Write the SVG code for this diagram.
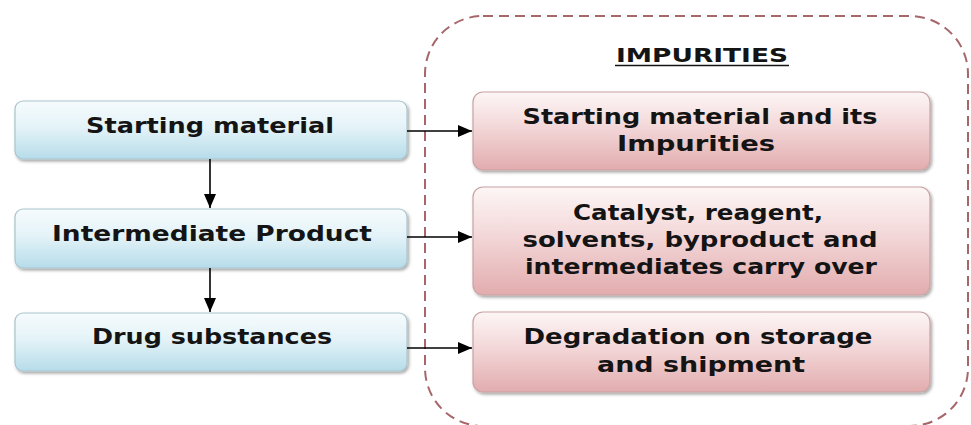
<svg xmlns="http://www.w3.org/2000/svg" width="971" height="425" viewBox="0 0 971 425">
<defs>
<linearGradient id="gb" x1="0" y1="0" x2="0" y2="1"><stop offset="0" stop-color="#f6fbfd"/><stop offset="0.45" stop-color="#e4f3f8"/><stop offset="1" stop-color="#b6dce9"/></linearGradient>
<linearGradient id="gr" x1="0" y1="0" x2="0" y2="1"><stop offset="0" stop-color="#fdf6f6"/><stop offset="0.45" stop-color="#f3d7d8"/><stop offset="1" stop-color="#e2acae"/></linearGradient>
<filter id="sh" x="-5%" y="-10%" width="110%" height="130%"><feDropShadow dx="1.5" dy="2" stdDeviation="1.5" flood-color="#000" flood-opacity="0.35"/></filter>
<marker id="ah" viewBox="0 0 14 12" refX="14" refY="6" markerWidth="14" markerHeight="12" markerUnits="userSpaceOnUse" orient="auto"><path d="M0,0 L14,6 L0,12 z" fill="#000"/></marker>
</defs>
<style>
.bl{fill:url(#gb);stroke:#a9c5ce;stroke-width:1.2;filter:url(#sh)}
.rd{fill:url(#gr);stroke:#c9a2a3;stroke-width:1.2;filter:url(#sh)}
.t{font-family:"DejaVu Sans","Liberation Sans",sans-serif;font-weight:bold;font-size:21.5px;fill:#141414;text-anchor:middle}
.c{stroke:#000;stroke-width:1.6;fill:none}
</style>
<rect width="971" height="425" fill="#fff"/>
<g id="container">
<rect x="425" y="16" width="543" height="410" rx="58" ry="58" fill="none" stroke="#a6676b" stroke-width="2" stroke-dasharray="10,6"/>
<text class="t" x="702" y="62" style="font-size:19px" textLength="172" lengthAdjust="spacingAndGlyphs">IMPURITIES</text>
<line x1="615" y1="65.5" x2="789" y2="65.5" stroke="#141414" stroke-width="1.6"/>
</g>
<g id="n1"><rect class="bl" x="15" y="101" width="392" height="58" rx="8"/><text class="t" x="210" y="133" textLength="248" lengthAdjust="spacingAndGlyphs">Starting material</text></g>
<g id="n2"><rect class="bl" x="15" y="209" width="392" height="59" rx="8"/><text class="t" x="212" y="241" textLength="320" lengthAdjust="spacingAndGlyphs">Intermediate Product</text></g>
<g id="n3"><rect class="bl" x="15" y="313" width="392" height="58" rx="8"/><text class="t" x="212" y="344" textLength="240" lengthAdjust="spacingAndGlyphs">Drug substances</text></g>
<g id="r1"><rect class="rd" x="473" y="92" width="457" height="78" rx="10"/><text class="t" x="700" y="124" textLength="355" lengthAdjust="spacingAndGlyphs">Starting material and its</text><text class="t" x="696" y="151" textLength="158" lengthAdjust="spacingAndGlyphs">Impurities</text></g>
<g id="r2"><rect class="rd" x="473" y="187" width="457" height="108" rx="10"/><text class="t" x="698" y="220" textLength="250" lengthAdjust="spacingAndGlyphs">Catalyst, reagent,</text><text class="t" x="700" y="247" textLength="355" lengthAdjust="spacingAndGlyphs">solvents, byproduct and</text><text class="t" x="701" y="274" textLength="352" lengthAdjust="spacingAndGlyphs">intermediates carry over</text></g>
<g id="r3"><rect class="rd" x="473" y="312" width="457" height="80" rx="10"/><text class="t" x="698" y="344" textLength="349" lengthAdjust="spacingAndGlyphs">Degradation on storage</text><text class="t" x="701" y="372" textLength="208" lengthAdjust="spacingAndGlyphs">and shipment</text></g>
<g id="connectors">
<line class="c" x1="210" y1="159" x2="210" y2="208" marker-end="url(#ah)"/>
<line class="c" x1="210" y1="268" x2="210" y2="312" marker-end="url(#ah)"/>
<line class="c" x1="407" y1="131" x2="472" y2="131" marker-end="url(#ah)"/>
<line class="c" x1="407" y1="237" x2="472" y2="237" marker-end="url(#ah)"/>
<line class="c" x1="407" y1="348" x2="472" y2="348" marker-end="url(#ah)"/>
</g>
</svg>
